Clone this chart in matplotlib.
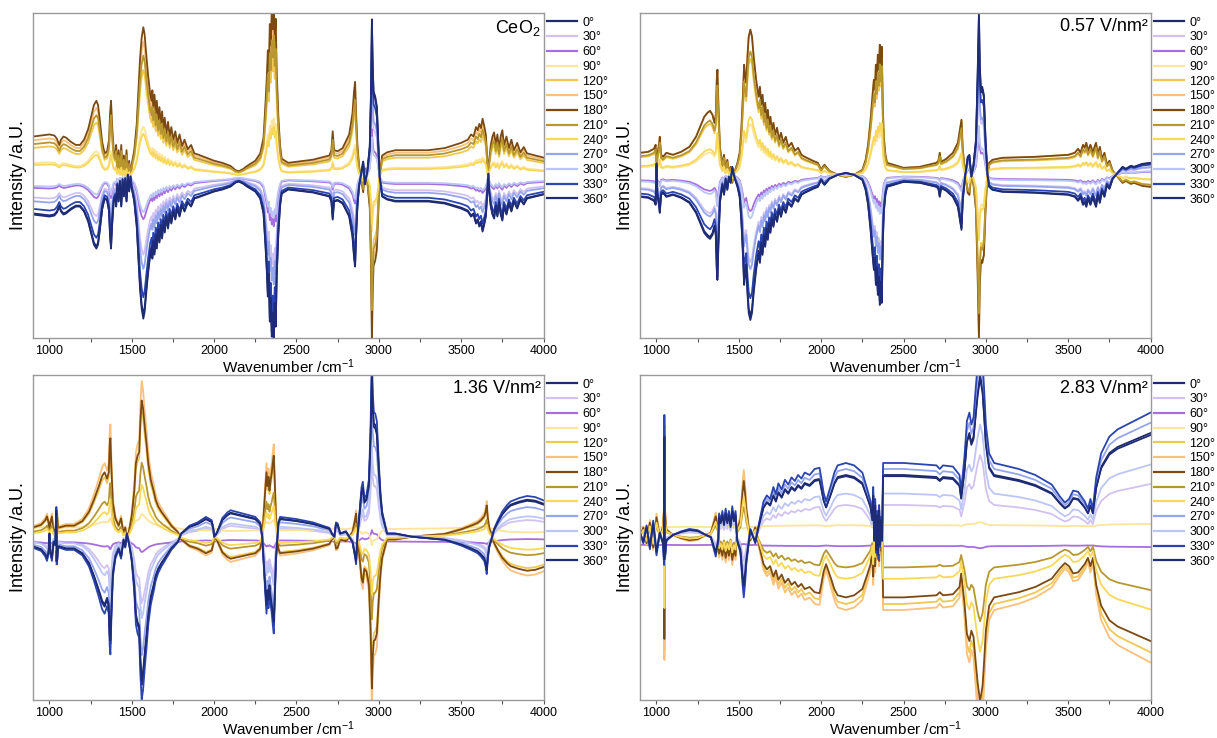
import numpy as np
import matplotlib
matplotlib.use("Agg")
import matplotlib.pyplot as plt
from matplotlib.ticker import MultipleLocator

plt.rcParams['font.family'] = ['Liberation Sans', 'DejaVu Sans']
plt.rcParams['mathtext.default'] = 'regular'

# modulation phase angles and their colours
angles = [0, 30, 60, 90, 120, 150, 180, 210, 240, 270, 300, 330, 360]
colors = ['#1f2a6e', '#d2c2f2', '#a66ee0', '#fce49a', '#f0c850', '#fbc07a',
          '#7b4a12', '#b8982e', '#f8d858', '#95a5ee', '#bcc6f6', '#2a44b0', '#1e2b75']

# 0 deg phase-resolved spectrum of each sample, (wavenumber, intensity) pairs
p1_spectrum = [
    (900, -38), (950, -39), (1000, -40), (1030, -39), (1045, -36), (1060, -30),
    (1070, -35), (1085, -38), (1100, -37), (1130, -33), (1160, -30), (1185, -30),
    (1210, -35), (1235, -45), (1255, -58), (1270, -68), (1285, -72), (1295, -68),
    (1305, -55), (1320, -33), (1335, -22), (1350, -24), (1362, -35), (1368, -60),
    (1374, -72), (1380, -50), (1390, -25), (1400, -20), (1405, -30), (1412, -8),
    (1420, -25), (1428, -5), (1436, -30), (1444, -3), (1452, -20), (1460, -2),
    (1468, -25), (1476, 2), (1484, -15), (1492, 0), (1500, -12), (1515, -25),
    (1530, -50), (1540, -80), (1550, -112), (1560, -132), (1570, -142), (1578, -135),
    (1590, -112), (1600, -95), (1612, -78), (1620, -72), (1625, -82), (1630, -66),
    (1638, -78), (1645, -60), (1652, -72), (1660, -54), (1668, -66), (1676, -50),
    (1684, -62), (1692, -45), (1700, -56), (1710, -41), (1720, -52), (1730, -38),
    (1740, -47), (1752, -35), (1764, -43), (1776, -32), (1790, -40), (1805, -29),
    (1820, -35), (1840, -26), (1860, -30), (1880, -22), (1900, -21), (1950, -18),
    (2000, -15), (2050, -13), (2100, -10), (2130, -6), (2150, -5), (2175, -7),
    (2200, -10), (2250, -15), (2280, -22), (2300, -37), (2312, -70), (2320, -95),
    (2326, -120), (2332, -100), (2338, -145), (2344, -125), (2350, -160), (2356, -140),
    (2362, -166), (2368, -130), (2374, -150), (2380, -100), (2390, -57), (2400, -30),
    (2410, -17), (2450, -13), (2500, -14), (2600, -16), (2700, -20), (2712, -25),
    (2720, -43), (2728, -25), (2750, -24), (2780, -27), (2820, -40), (2840, -60),
    (2850, -82), (2856, -90), (2862, -60), (2870, -30), (2880, -10), (2895, 5),
    (2905, 15), (2915, -8), (2930, 5), (2945, 30), (2952, 80), (2958, 157),
    (2963, 110), (2968, 85), (2978, 80), (2988, 70), (2995, 40), (3005, 0),
    (3020, -20), (3050, -23), (3100, -25), (3300, -25), (3400, -27), (3500, -32),
    (3540, -35), (3560, -40), (3575, -38), (3590, -47), (3600, -44), (3610, -50),
    (3620, -46), (3630, -55), (3640, -48), (3650, -40), (3660, -10), (3665, 3),
    (3670, -15), (3680, -30), (3690, -38), (3700, -42), (3710, -30), (3720, -40),
    (3730, -26), (3740, -38), (3750, -44), (3760, -30), (3775, -38), (3790, -27),
    (3805, -35), (3820, -25), (3840, -32), (3860, -23), (3880, -28), (3900, -22),
    (3950, -20), (4000, -18),
]
p2_spectrum = [
    (900, -22), (950, -23), (985, -26), (995, -30), (1000, 12), (1005, -20),
    (1015, -30), (1020, -38), (1028, -20), (1040, -18), (1060, -22), (1100, -20),
    (1150, -23), (1200, -28), (1240, -38), (1270, -50), (1290, -58), (1310, -62),
    (1325, -64), (1340, -60), (1352, -52), (1360, -60), (1366, -95), (1370, -105),
    (1376, -70), (1385, -28), (1400, -10), (1410, -20), (1420, -4), (1430, -15),
    (1440, -2), (1450, -8), (1460, 8), (1470, 0), (1480, -6), (1492, -12),
    (1505, -22), (1515, -45), (1525, -80), (1532, -110), (1538, -100), (1545, -92),
    (1553, -120), (1560, -138), (1570, -145), (1580, -138), (1590, -118), (1605, -95),
    (1620, -78), (1628, -88), (1636, -70), (1644, -80), (1652, -62), (1660, -72),
    (1668, -55), (1676, -65), (1684, -50), (1692, -58), (1700, -44), (1710, -52),
    (1720, -40), (1732, -47), (1744, -35), (1756, -42), (1770, -32), (1785, -38),
    (1800, -28), (1820, -32), (1840, -24), (1860, -27), (1880, -20), (1900, -18),
    (1950, -14), (1980, -12), (2000, -5), (2010, -8), (2020, -10), (2050, -4),
    (2100, 0), (2150, 2), (2200, 0), (2250, -5), (2270, -15), (2285, -30),
    (2300, -55), (2312, -80), (2320, -95), (2326, -85), (2332, -110), (2338, -95),
    (2344, -120), (2350, -105), (2356, -130), (2362, -110), (2368, -128), (2374, -70),
    (2380, -38), (2390, -20), (2400, -12), (2500, -7), (2600, -8), (2700, -12),
    (2712, -14), (2720, -22), (2728, -13), (2760, -16), (2800, -22), (2830, -32),
    (2845, -48), (2852, -55), (2860, -25), (2875, 0), (2890, 18), (2900, 20),
    (2912, -2), (2925, 10), (2940, 35), (2950, 100), (2958, 163), (2963, 110),
    (2970, 85), (2978, 88), (2988, 80), (2998, 35), (3010, 0), (3020, -12),
    (3040, -15), (3100, -17), (3300, -18), (3500, -20), (3540, -22), (3560, -26),
    (3575, -22), (3590, -30), (3600, -27), (3610, -32), (3620, -24), (3635, -30),
    (3650, -22), (3660, -28), (3669, -32), (3680, -20), (3692, -28), (3705, -16),
    (3720, -22), (3735, -10), (3750, -14), (3770, -4), (3800, 2), (3830, 8),
    (3850, 6), (3880, 9), (3900, 8), (3950, 11), (4000, 12),
]
p3_spectrum = [
    (900, -10), (950, -13), (975, -18), (985, -22), (995, -15), (1000, 3),
    (1005, -15), (1015, -22), (1025, -5), (1035, -8), (1042, 27), (1046, -25),
    (1052, -10), (1060, -10), (1100, -12), (1150, -12), (1200, -17), (1240, -27),
    (1270, -40), (1300, -55), (1320, -66), (1335, -70), (1350, -63), (1360, -70),
    (1366, -100), (1370, -107), (1376, -75), (1385, -37), (1400, -20), (1420, -12),
    (1435, -20), (1450, -3), (1460, -10), (1470, 3), (1485, -8), (1500, -23),
    (1515, -50), (1525, -80), (1535, -88), (1545, -92), (1552, -125), (1560, -148),
    (1568, -140), (1580, -117), (1590, -100), (1600, -80), (1615, -62), (1625, -55),
    (1635, -48), (1645, -40), (1660, -33), (1680, -27), (1700, -22), (1740, -12),
    (1780, -5), (1800, 3), (1850, 10), (1900, 13), (1950, 18), (1985, 15),
    (1995, 8), (2000, 0), (2010, 2), (2020, 5), (2050, 17), (2080, 22),
    (2100, 24), (2150, 22), (2200, 20), (2250, 18), (2280, 13), (2292, 0),
    (2300, -23), (2310, -50), (2318, -70), (2324, -55), (2330, -65), (2336, -50),
    (2342, -60), (2350, -70), (2356, -80), (2362, -88), (2368, -60), (2375, -23),
    (2390, 13), (2400, 18), (2450, 17), (2500, 16), (2600, 13), (2700, 8),
    (2715, 3), (2730, 0), (2740, 13), (2750, 12), (2765, 3), (2800, 5),
    (2840, -5), (2855, -18), (2862, -25), (2870, 0), (2880, 17), (2895, 45),
    (2903, 50), (2912, 35), (2925, 38), (2940, 52), (2950, 100), (2958, 165),
    (2963, 130), (2970, 113), (2978, 112), (2988, 105), (3000, 67), (3010, 40),
    (3020, 23), (3050, 3), (3100, 3), (3200, 0), (3400, -3), (3500, -8),
    (3560, -12), (3600, -15), (3620, -18), (3640, -22), (3650, -28), (3655, -34),
    (3662, -20), (3670, -10), (3685, -2), (3700, 7), (3720, 14), (3750, 23),
    (3780, 29), (3800, 32), (3850, 35), (3900, 37), (3950, 36), (4000, 33),
]
p4_spectrum = [
    (900, 2), (920, -7), (940, 8), (960, -12), (980, 12), (1000, -17),
    (1020, 2), (1040, -8), (1046, -25), (1048, 100), (1050, -5), (1052, -20),
    (1060, -5), (1100, 0), (1150, 3), (1200, 5), (1250, 4), (1300, 0),
    (1330, -2), (1360, -18), (1375, -5), (1380, 18), (1390, 12), (1400, 20),
    (1410, 10), (1420, 22), (1430, 12), (1440, 20), (1450, 8), (1460, 24),
    (1470, 14), (1480, 20), (1490, -5), (1510, -15), (1522, -40), (1530, -52),
    (1538, -40), (1545, -25), (1570, 5), (1600, -7), (1620, 8), (1650, 28),
    (1670, 33), (1690, 30), (1710, 40), (1725, 34), (1740, 43), (1760, 38),
    (1780, 46), (1800, 42), (1820, 48), (1840, 45), (1860, 50), (1880, 47),
    (1900, 52), (1930, 50), (1960, 55), (1990, 56), (2000, 48), (2015, 35),
    (2030, 28), (2045, 35), (2060, 42), (2080, 52), (2100, 58), (2150, 60),
    (2200, 58), (2250, 52), (2280, 38), (2300, 28), (2310, 15), (2316, 40),
    (2322, -5), (2328, 30), (2334, -15), (2340, 20), (2346, -20), (2352, 25),
    (2358, -10), (2364, 15), (2370, -5), (2376, 60), (2400, 60), (2500, 60),
    (2700, 58), (2720, 55), (2740, 58), (2800, 57), (2840, 50), (2850, 37),
    (2870, 65), (2885, 95), (2900, 102), (2912, 92), (2925, 98), (2940, 125),
    (2950, 142), (2965, 160), (2980, 145), (2990, 120), (3000, 92), (3020, 68),
    (3050, 60), (3200, 55), (3300, 50), (3400, 42), (3450, 32), (3480, 27),
    (3505, 30), (3530, 37), (3560, 36), (3580, 32), (3600, 28), (3620, 22),
    (3635, 30), (3650, 22), (3670, 48), (3700, 68), (3750, 82), (3800, 88),
    (3900, 95), (4000, 102),
]

# relative amplitude of each phase angle against the 0 deg spectrum, plus baseline shift
p1_scale = [1.0, 0.55, 0.3, -0.35, -0.75, -0.95, -1.05, -0.85, -0.3, 0.65, 0.25, 0.85, 0.97]
p2_scale = [1.0, 0.6, 0.25, -0.35, -0.8, -1.0, -1.0, -0.85, -0.4, 0.65, 0.3, 0.85, 0.97]
p3_scale = [1.0, 0.45, 0.07, -0.1, -0.85, -1.05, -0.92, -0.5, -0.35, 0.8, 0.55, 1.1, 0.97]
p4_scale = [1.0, 0.5, -0.02, 0.03, -1.15, -1.25, -1.04, -0.54, -0.73, 1.1, 0.69, 1.2, 0.98]
p1_shift = [0, 0, 0, 0, 0, 0, 0, 0, 0, 0, 0, 0, 0]
p2_shift = [0, 0, 0, 0, 0, 0, 0, 0, 0, 0, 0, 0, 0]
p3_shift = [0, 0, -5, 8, 0, 0, 0, 0, 0, 0, 0, 0, 0]
p4_shift = [0, 0, -10, 8, 0, 0, 0, 0, 0, 0, 0, 0, 0]

samples = ['CeO$_2$', '0.57 V/nm²', '1.36 V/nm²', '2.83 V/nm²']
ylims = [(-161.3, 163.3), (-163, 161.7), (-163.3, 161.7), (-165, 160)]

fig = plt.figure(figsize=(12.17, 7.38), dpi=100)
boxes = [(0.0271, 0.542), (0.5259, 0.542), (0.0271, 0.0515), (0.5259, 0.0515)]
spectra = [p1_spectrum, p2_spectrum, p3_spectrum, p4_spectrum]
scales = [p1_scale, p2_scale, p3_scale, p4_scale]
shifts = [p1_shift, p2_shift, p3_shift, p4_shift]

for i in range(4):
    ax = fig.add_axes([boxes[i][0], boxes[i][1], 0.4195, 0.4404])
    wn = np.array([p[0] for p in spectra[i]])
    base = np.array([p[1] for p in spectra[i]], dtype=float)
    for k, a in enumerate(angles):
        ax.plot(wn, scales[i][k] * base + shifts[i][k], color=colors[k],
                lw=1.3, label=f'{a}°')
    ax.set_xlim(900, 4000)
    ax.set_ylim(*ylims[i])
    ax.xaxis.set_major_locator(MultipleLocator(500))
    ax.xaxis.set_minor_locator(MultipleLocator(250))
    ax.tick_params(axis='x', which='both', direction='out', length=3, width=0.8,
                   color='#555555', labelsize=9, pad=2)
    ax.tick_params(axis='y', left=False, labelleft=False)
    for s in ax.spines.values():
        s.set_color('#9a9a9a')
        s.set_linewidth(1.0)
    ax.set_xlabel('Wavenumber /cm$^{-1}$', fontsize=11, labelpad=0)
    ax.set_ylabel('Intensity /a.U.', fontsize=13, labelpad=4)
    ax.text(0.995, 0.985, samples[i], transform=ax.transAxes, ha='right', va='top',
            fontsize=13)
    leg = ax.legend(loc='upper left', bbox_to_anchor=(1.0, 1.0), frameon=False,
                    fontsize=9, handlelength=2.4, handletextpad=0.4, labelspacing=0.22,
                    borderaxespad=0.1, borderpad=0.2)
    for h in leg.get_lines():
        h.set_linewidth(1.6)

fig.savefig('out.png', dpi=100)
